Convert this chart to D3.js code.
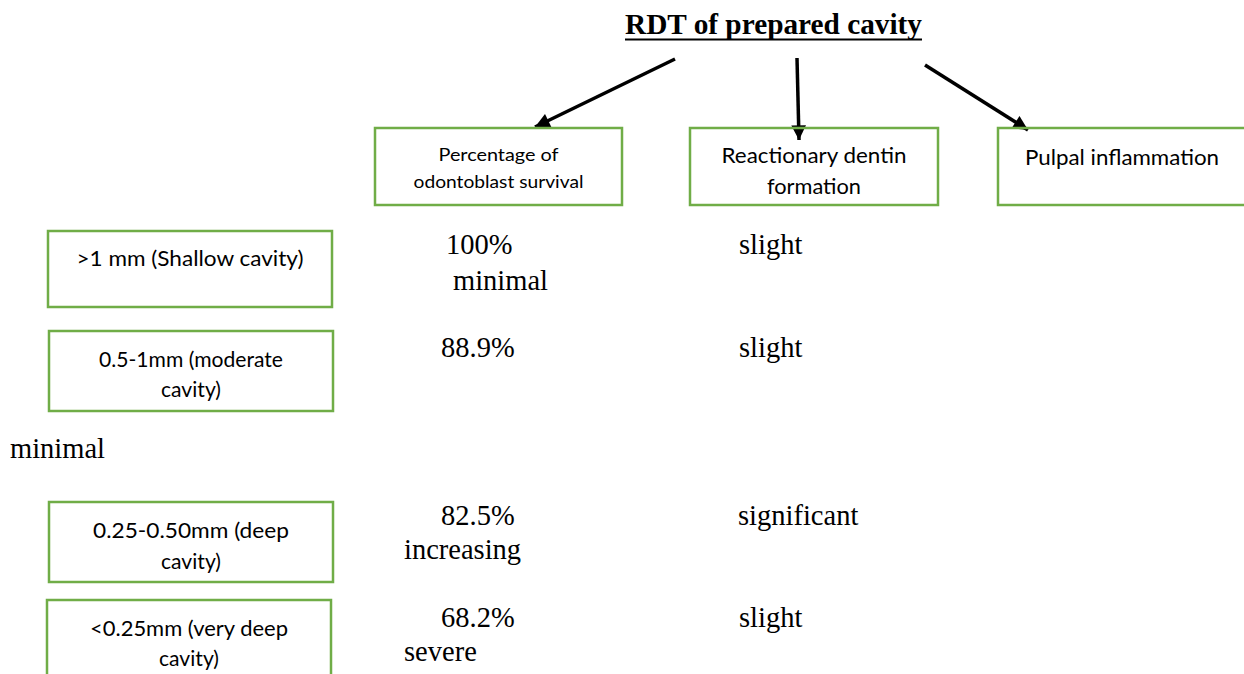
<!DOCTYPE html>
<html>
<head>
<meta charset="utf-8">
<script src="https://cdn.jsdelivr.net/npm/d3@7"></script>
<style>
  html, body { margin: 0; padding: 0; background: #fff; overflow: hidden; }
  svg { display: block; }
</style>
</head>
<body>
<svg id="chart" width="1244" height="674"></svg>
<script>
// ---------------- data ----------------
const title = "RDT of prepared cavity";
const headers = [["Percentage of", "odontoblast survival"], ["Reactionary dentin", "formation"], ["Pulpal inflammation"]];
const rowLabels = [[">1 mm (Shallow cavity)"], ["0.5-1mm (moderate", "cavity)"], ["0.25-0.50mm (deep", "cavity)"], ["<0.25mm (very deep", "cavity)"]];
const survival = ["100%", "88.9%", "82.5%", "68.2%"];
const dentin = ["slight", "slight", "significant", "slight"];
const inflammation = ["minimal", "minimal", "increasing", "severe"];

// ---------------- layout ----------------
const GREEN = "#70ad47";
const svg = d3.select("#chart");

const headerX = d3.scaleOrdinal().domain(d3.range(3)).range([375, 690, 998]);
const headerW = d3.scaleOrdinal().domain(d3.range(3)).range([247, 248, 260]);
const headerLineY = [[161, 188], [163, 194], [165]];
const headerTextX = d3.scaleOrdinal().domain(d3.range(3)).range([498.5, 814, 1025]);
const headerAnchor = ["middle", "middle", "start"];
const headerFont = [17, 20.5, 20.5];
const headerLens = [[120, 170], [185, 94], [194]];

const rowTop = d3.scaleOrdinal().domain(d3.range(4)).range([231, 331, 502, 600]);
const rowH = d3.scaleOrdinal().domain(d3.range(4)).range([76, 80, 80, 80]);
const rowX = d3.scaleOrdinal().domain(d3.range(4)).range([48, 49, 49, 47]);
const rowLineOffsets = [[35], [36, 66], [36, 67], [36, 66]];
const rowLens = [[227], [184, 60], [196, 60], [198, 60]];

const survX = d3.scaleOrdinal().domain(d3.range(4)).range([446, 441, 441, 441]);
const survBase = d3.scaleOrdinal().domain(d3.range(4)).range([254, 357, 525, 627]);
const dentX = d3.scaleOrdinal().domain(d3.range(4)).range([739, 739, 738, 739]);
const inflX = d3.scaleOrdinal().domain(d3.range(4)).range([453, 10, 404, 404]);
const inflBase = d3.scaleOrdinal().domain(d3.range(4)).range([290, 458, 559, 661]);

const serif = "'Liberation Serif', 'Times New Roman', serif";
const sans = "Lato, 'Noto Sans', sans-serif";

// ---------------- title ----------------
svg.append("text")
  .attr("x", 773.5).attr("y", 34)
  .attr("text-anchor", "middle")
  .attr("font-family", serif).attr("font-weight", "bold").attr("font-size", 28.5)
  .attr("textLength", 297).attr("lengthAdjust", "spacingAndGlyphs")
  .attr("fill", "#000")
  .text(title);
svg.append("line")
  .attr("x1", 625).attr("x2", 922).attr("y1", 39.5).attr("y2", 39.5)
  .attr("stroke", "#000").attr("stroke-width", 2);

// ---------------- arrows ----------------
const defs = svg.append("defs");
defs.append("marker")
  .attr("id", "ah").attr("viewBox", "0 0 10 10")
  .attr("refX", 10).attr("refY", 5)
  .attr("markerWidth", 4.6).attr("markerHeight", 4.2)
  .attr("markerUnits", "strokeWidth")
  .attr("orient", "auto")
  .append("path").attr("d", "M0,0 L10,5 L0,10 z").attr("fill", "#000");

const arrows = [
  [[675, 59], [535, 127]],
  [[797, 58], [799, 140]],
  [[925, 65], [1028, 130]]
];
svg.selectAll("line.arrow").data(arrows).join("line")
  .attr("class", "arrow")
  .attr("x1", d => d[0][0]).attr("y1", d => d[0][1])
  .attr("x2", d => d[1][0]).attr("y2", d => d[1][1])
  .attr("stroke", "#000").attr("stroke-width", 3.5)
  .attr("marker-end", "url(#ah)");

// ---------------- header boxes ----------------
const hg = svg.selectAll("g.header").data(headers).join("g").attr("class", "header");
hg.append("rect")
  .attr("x", (d, i) => headerX(i)).attr("y", 128)
  .attr("width", (d, i) => headerW(i)).attr("height", 77)
  .attr("fill", "none").attr("stroke", GREEN).attr("stroke-width", 2.5);
hg.each(function (d, i) {
  d3.select(this).selectAll("text").data(d).join("text")
    .attr("x", headerTextX(i))
    .attr("y", (t, j) => headerLineY[i][j])
    .attr("text-anchor", headerAnchor[i])
    .attr("font-family", sans).attr("font-size", headerFont[i])
    .attr("textLength", (t, j) => headerLens[i][j]).attr("lengthAdjust", "spacingAndGlyphs")
    .attr("fill", "#000")
    .text(t => t);
});

// ---------------- row boxes ----------------
const rg = svg.selectAll("g.row").data(rowLabels).join("g").attr("class", "row");
rg.append("rect")
  .attr("x", (d, i) => rowX(i)).attr("y", (d, i) => rowTop(i))
  .attr("width", 284).attr("height", (d, i) => rowH(i))
  .attr("fill", "none").attr("stroke", GREEN).attr("stroke-width", 2.5);
rg.each(function (d, i) {
  d3.select(this).selectAll("text").data(d).join("text")
    .attr("x", rowX(i) + 142)
    .attr("y", (t, j) => rowTop(i) + rowLineOffsets[i][j])
    .attr("text-anchor", "middle")
    .attr("font-family", sans).attr("font-size", 21.5)
    .attr("textLength", (t, j) => rowLens[i][j]).attr("lengthAdjust", "spacingAndGlyphs")
    .attr("fill", "#000")
    .text(t => t);
});

// ---------------- values ----------------
const valStyle = sel => sel.attr("font-family", serif).attr("font-size", 28.5).attr("fill", "#000");

svg.selectAll("text.surv").data(survival).join("text").attr("class", "surv")
  .attr("x", (d, i) => survX(i)).attr("y", (d, i) => survBase(i))
  .call(valStyle).text(d => d);

svg.selectAll("text.dent").data(dentin).join("text").attr("class", "dent")
  .attr("x", (d, i) => dentX(i)).attr("y", (d, i) => survBase(i))
  .call(valStyle).text(d => d);

svg.selectAll("text.infl").data(inflammation).join("text").attr("class", "infl")
  .attr("x", (d, i) => inflX(i)).attr("y", (d, i) => inflBase(i))
  .call(valStyle).text(d => d);
</script>
</body>
</html>
